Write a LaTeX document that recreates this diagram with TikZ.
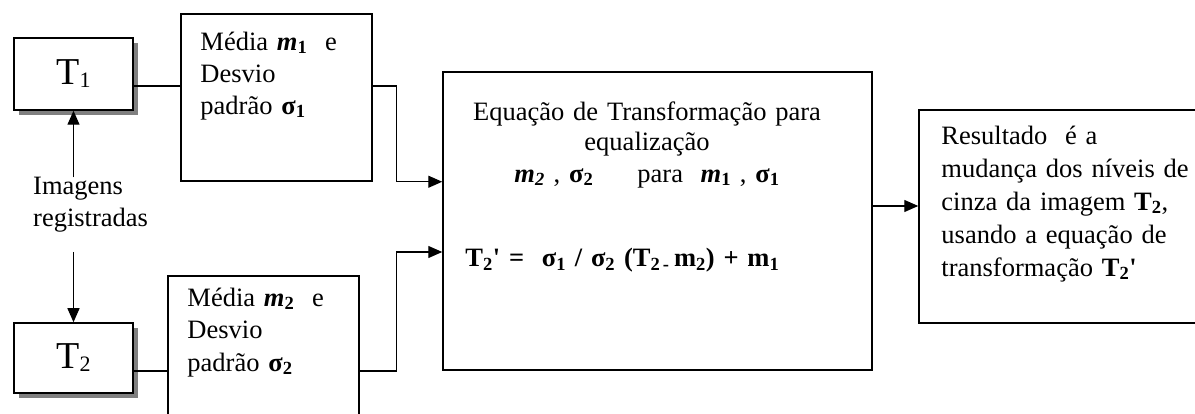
\documentclass[tikz,border=0pt]{standalone}
\usepackage{fontspec}
\setmainfont{Liberation Serif}[Ligatures=TeXOff]
\usetikzlibrary{arrows.meta,shadows}

\tikzset{
  box/.style={draw,line width=1.5pt,inner sep=0pt,fill=white},
  imgbox/.style={box,drop shadow={shadow xshift=5pt,shadow yshift=-5pt,fill=black!50,opacity=1}},
  txt/.style={inner sep=0pt,align=left,font=\fontsize{26.5}{32}\selectfont},
  link/.style={line width=1.3pt},
  arr/.style={link,-{Triangle[length=14pt,width=12pt]}}
}
\newcommand{\Tbig}[1]{{\fontsize{38}{40}\selectfont T\raisebox{-3pt}{\fontsize{22}{22}\selectfont #1}}}

\begin{document}
\begin{tikzpicture}[x=1pt,y=1pt]
\useasboundingbox (0,0) rectangle (1195,414);
\clip (0,0) rectangle (1195,414);

% images
\node[imgbox,minimum width=119pt,minimum height=72pt] (T1) at (73.5,340) {\Tbig{1}};
\node[imgbox,minimum width=119pt,minimum height=70pt] (T2) at (73.5,56) {\Tbig{2}};
\node[txt,text width=130pt,anchor=base west] (lbl) at (33,219) {Imagens\\registradas};

% statistics
\node[box,minimum width=191pt,minimum height=167pt] (m1) at (276.5,316.5) {};
\node[box,minimum width=191pt,minimum height=190pt] (m2) at (263.5,43) {};
\node[txt,text width=170pt,anchor=base west] (m1txt) at ([shift={(20,-37)}]m1.north west)
  {Média \textbf{\textit{m}\textsubscript{1}}~ e\\Desvio\\padrão \textbf{σ\textsubscript{1}}};
\node[txt,text width=170pt,anchor=base west,font=\fontsize{26.5}{32.5}\selectfont] (m2txt) at ([shift={(20,-31)}]m2.north west)
  {Média \textbf{\textit{m}\textsubscript{2}}~ e\\Desvio\\padrão \textbf{σ\textsubscript{2}}};

% transformation
\node[box,minimum width=429pt,minimum height=298pt] (big) at (657.5,193) {};
\node[txt,text width=400pt,align=center,anchor=base,font=\fontsize{26.5}{30}\selectfont] (eqtxt) at ([shift={(-10.5,-49)}]big.north)
  {Equação de Transformação para\\equalização\\[2pt]
   \textbf{\textit{m\textsubscript{2}}} , \textbf{σ\textsubscript{2}}\quad\ \ para\ \ \textbf{\textit{m}\textsubscript{1}} , \textbf{σ\textsubscript{1}}};
\node[txt,text width=400pt,anchor=base west] (eq) at ([shift={(23,-46)}]big.west)
  {\textbf{T\textsubscript{2}' =\ \ σ\textsubscript{1} / σ\textsubscript{2} (T\textsubscript{2\,-}\,m\textsubscript{2}) + m\textsubscript{1}}};

% result
\node[box,minimum width=291pt,minimum height=213pt] (res) at (1064.5,197.5) {};
\node[txt,text width=260pt,anchor=base west,font=\fontsize{26.5}{33}\selectfont] (restxt) at ([shift={(23,-35)}]res.north west)
  {Resultado\ \ é a\\mudança dos níveis de\\cinza da imagem \textbf{T\textsubscript{2}},\\usando a equação de\\transformação \textbf{T\textsubscript{2}'}};

% connectors
\draw[arr] (lbl.north -| T1.south) -- (T1.south);
\draw[arr] ([yshift=-19pt]lbl.south -| T2.north) -- (T2.north);
\draw[link] ([yshift=-12pt]T1.east) -- ([yshift=-12pt]T1.east -| m1.west);
\draw[link] (T2.east |- m2.west) -- (m2.west);
\draw[arr] ([yshift=11.5pt]m1.east) -- ++(24,0) |- (big.west |- m1.south);
\draw[arr] (m2.east) -- ++(37,0) |- ([yshift=-31pt]big.west);
\draw[arr] ([yshift=15pt]big.east) -- ([yshift=15pt]big.east -| res.west);
\end{tikzpicture}
\end{document}
